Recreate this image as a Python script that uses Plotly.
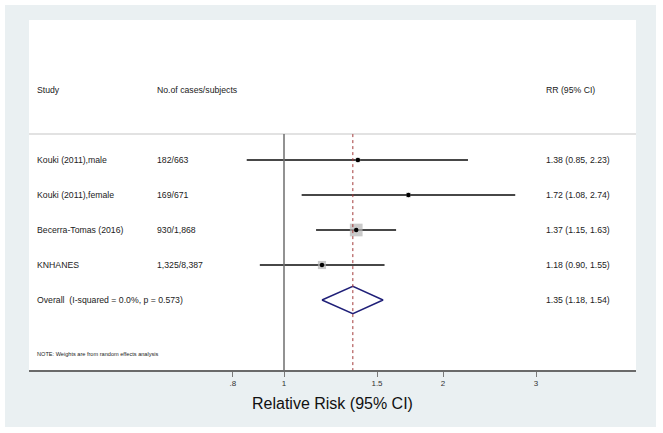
import math
import plotly.graph_objects as go

# ---------------- data ----------------
studies = ["Kouki (2011),male", "Kouki (2011),female", "Becerra-Tomas (2016)", "KNHANES"]
cases = ["182/663", "169/671", "930/1,868", "1,325/8,387"]
rr = [1.38, 1.72, 1.37, 1.18]
rr_lo = [0.85, 1.08, 1.15, 0.90]
rr_hi = [2.23, 2.74, 1.63, 1.55]

overall_label = "Overall  (I-squared = 0.0%, p = 0.573)"
overall_rr = 1.35
overall_lo = 1.18
overall_hi = 1.54

header_labels = ["Study", "No.of cases/subjects", "RR (95% CI)"]
note_text = "NOTE: Weights are from random effects analysis"

tick_vals = [0.8, 1, 1.5, 2, 3]
tick_text = [".8", "1", "1.5", "2", "3"]
x_title = "Relative Risk (95% CI)"

# ---------------- layout constants ----------------
W, H = 663, 433
L, R, T, B = 29, 27, 20, 63
FONT = "Arial, Liberation Sans, sans-serif"
PANEL = "#eaf0f2"

rows = list(range(1, len(studies) + 1))
overall_row = len(studies) + 1
header_row = -1
note_row = 6.54
sep_row = 0.26

# inverse-variance weights -> box sizes
se = [(math.log(h) - math.log(l)) / 3.92 for l, h in zip(rr_lo, rr_hi)]
w = [1 / s ** 2 for s in se]
wmax = max(w)
box_sizes = [12.7 * math.sqrt(x / wmax) for x in w]

fig = go.Figure()

# CI lines
for y, l, h in zip(rows, rr_lo, rr_hi):
    fig.add_trace(go.Scatter(x=[l, h], y=[y, y], mode="lines",
                             line=dict(color="#474747", width=1.8),
                             hoverinfo="skip", showlegend=False))

# weight boxes
fig.add_trace(go.Scatter(x=rr, y=rows, mode="markers",
                         marker=dict(symbol="square", size=box_sizes, color="#b4b4b4",
                                     line=dict(width=0)),
                         hoverinfo="skip", showlegend=False))
# point estimates
fig.add_trace(go.Scatter(x=rr, y=rows, mode="markers",
                         marker=dict(symbol="circle", size=4.5, color="#000000"),
                         hoverinfo="skip", showlegend=False))

# overall diamond
dh = 0.39
fig.add_trace(go.Scatter(
    x=[overall_lo, overall_rr, overall_hi, overall_rr, overall_lo],
    y=[overall_row, overall_row - dh, overall_row, overall_row + dh, overall_row],
    mode="lines", line=dict(color="#1f1f78", width=1.4),
    hoverinfo="skip", showlegend=False))

shapes = [
    # outer panel
    dict(type="rect", xref="paper", yref="paper",
         x0=(5 - L) / (W - L - R), x1=(656 - L) / (W - L - R),
         y0=-(427 - (H - B)) / (H - T - B), y1=1 + (20 - 5) / (H - T - B),
         fillcolor=PANEL, line=dict(width=0), layer="below"),
    dict(type="rect", xref="paper", yref="paper", x0=0, x1=1, y0=0, y1=1,
         fillcolor="white", line=dict(width=0), layer="below"),
    # header separator
    dict(type="line", xref="paper", yref="y", x0=0, x1=1, y0=sep_row, y1=sep_row,
         line=dict(color="#d8d8d8", width=1.5)),
    # null line
    dict(type="line", xref="x", yref="y", x0=1, x1=1, y0=sep_row, y1=7,
         line=dict(color="#6e6e6e", width=1.5)),
    # overall dashed line
    dict(type="line", xref="x", yref="y", x0=overall_rr, x1=overall_rr, y0=sep_row, y1=7,
         line=dict(color="#a33a3a", width=1, dash="3px,3px")),
]

# text columns
col_study = (35 - L) / (W - L - R)
col_cases = (155 - L) / (W - L - R)
col_rr = (544 - L) / (W - L - R)
tf = dict(family=FONT, size=8.7, color="#222222")

ann = []
for x, t in zip([col_study, col_cases, col_rr], header_labels):
    ann.append(dict(x=x, y=header_row, xref="paper", yref="y", text=t, showarrow=False,
                    xanchor="left", yanchor="middle", font=tf))
for y, s, c, v, l, h in zip(rows, studies, cases, rr, rr_lo, rr_hi):
    ann.append(dict(x=col_study, y=y, xref="paper", yref="y", text=s, showarrow=False,
                    xanchor="left", yanchor="middle", font=tf))
    ann.append(dict(x=col_cases, y=y, xref="paper", yref="y", text=c, showarrow=False,
                    xanchor="left", yanchor="middle", font=tf))
    ann.append(dict(x=col_rr, y=y, xref="paper", yref="y",
                    text=f"{v:.2f} ({l:.2f}, {h:.2f})", showarrow=False,
                    xanchor="left", yanchor="middle", font=tf))
ann.append(dict(x=col_study, y=overall_row, xref="paper", yref="y", text=overall_label,
                showarrow=False, xanchor="left", yanchor="middle", font=tf))
ann.append(dict(x=col_rr, y=overall_row, xref="paper", yref="y",
                text=f"{overall_rr:.2f} ({overall_lo:.2f}, {overall_hi:.2f})",
                showarrow=False, xanchor="left", yanchor="middle", font=tf))
ann.append(dict(x=col_study, y=note_row, xref="paper", yref="y", text=note_text,
                showarrow=False, xanchor="left", yanchor="middle",
                font=dict(family=FONT, size=5.6, color="#222222")))
ann.append(dict(x=0.5, y=-(403 - (H - B)) / (H - T - B), xref="paper", yref="paper",
                text=x_title, showarrow=False, xanchor="center", yanchor="middle",
                font=dict(family=FONT, size=16, color="#111111")))

x_left = math.log10(math.exp((L - 284) / 229.4))
x_right = math.log10(math.exp((W - R - 284) / 229.4))

fig.update_layout(
    width=W, height=H,
    margin=dict(l=L, r=R, t=T, b=B, autoexpand=False),
    paper_bgcolor="white", plot_bgcolor="rgba(0,0,0,0)",
    shapes=shapes, annotations=ann,
    xaxis=dict(type="log", range=[x_left, x_right], tickvals=tick_vals, ticktext=tick_text,
               showgrid=False, zeroline=False, showline=True, linecolor="#6a6a6a",
               linewidth=1.6, ticks="outside", ticklen=5, tickwidth=1, tickcolor="#7a7a7a",
               tickfont=dict(family=FONT, size=8, color="#333333"), fixedrange=True),
    yaxis=dict(range=[7, -3], visible=False, showgrid=False, zeroline=False, fixedrange=True),
)

fig.write_html("out.html", config={"displayModeBar": False},
               post_script="document.body.style.margin='0';")
